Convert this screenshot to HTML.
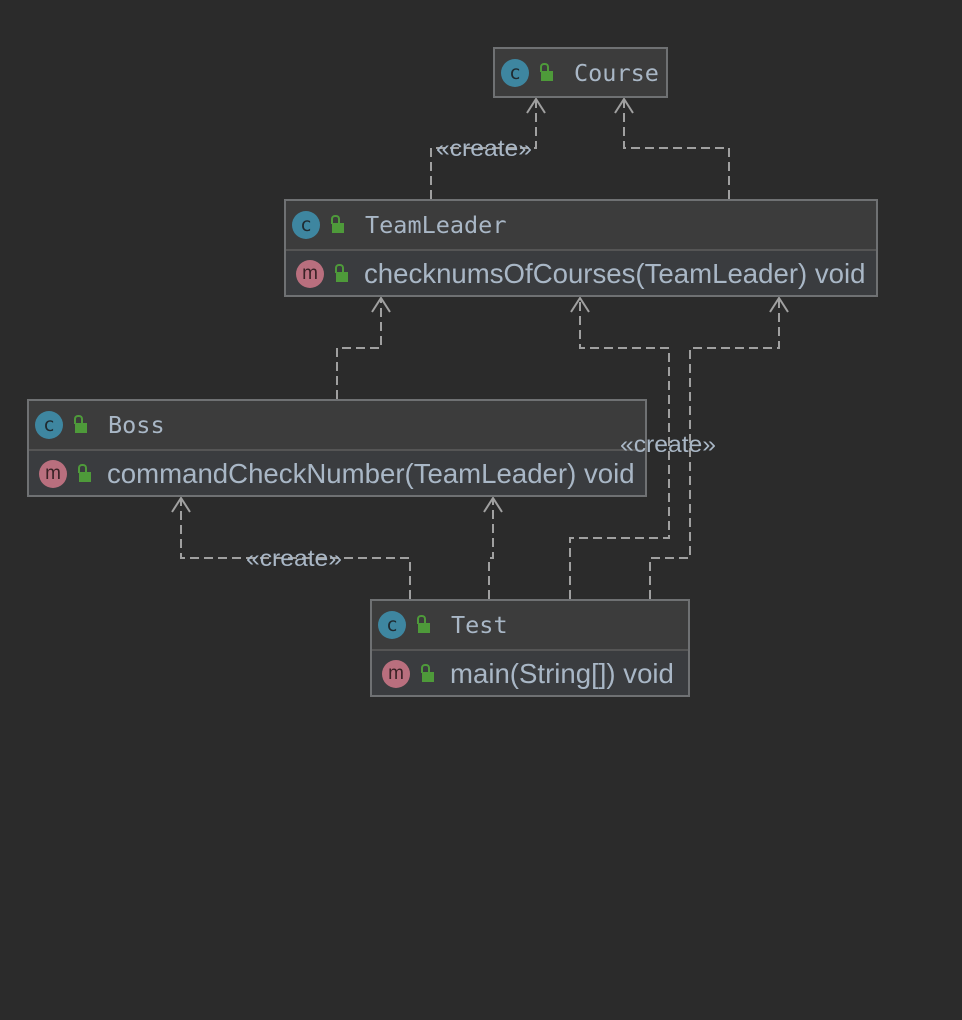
<!DOCTYPE html>
<html><head><style>
body{margin:0;width:962px;height:1020px;background:#2b2b2b;overflow:hidden;position:relative;font-family:"Liberation Sans","DejaVu Sans",sans-serif}
.box{position:absolute;border:2px solid #6f7173;box-sizing:border-box;background:#3c3c3c;overflow:hidden}
.row{position:absolute;left:0;right:0;height:48px;display:flex;align-items:center;box-sizing:border-box}
.hd{font-family:"DejaVu Sans Mono","Liberation Mono",monospace;font-size:23.5px;color:#a9b7c6}
.md{background:#3a3c3f;border-top:2px solid #555;font-size:27.6px;color:#a9b7c6}
.ic{width:28px;height:28px;border-radius:50%;display:inline-flex;align-items:center;justify-content:center;font-size:19px;color:#1f2a30;margin-left:6px;flex:none}
.c{background:#3e86a0}
.m{background:#b96f7e;color:#3a2226}
.lk{width:12px;height:10px;background:#4e9a3a;margin:6px 16px 0 12px;position:relative;flex:none}
.lk:before{content:"";position:absolute;left:-1px;top:-8px;width:5px;height:7px;border:2px solid #4e9a3a;border-bottom:none;border-radius:4px 4px 0 0}
</style></head><body>
<svg width="962" height="1020" style="position:absolute;left:0;top:0">
<g fill="none" stroke="#a0a0a0" stroke-width="2" stroke-dasharray="9,5">
<polyline points="431,199 431,148 536,148 536,99"/>
<polyline points="729,199 729,148 624,148 624,99"/>
<polyline points="337,399 337,348 381,348 381,298"/>
<polyline points="570,599 570,538 669,538 669,348 580,348 580,298"/>
<polyline points="650,599 650,558 690,558 690,348 779,348 779,298"/>
<polyline points="410,599 410,558 181,558 181,498"/>
<polyline points="489,599 489,558 493,558 493,498"/>
</g>
<g fill="none" stroke="#a0a0a0" stroke-width="2">
<polyline points="527,113 536,99 545,113"/><polyline points="615,113 624,99 633,113"/>
<polyline points="372,312 381,298 390,312"/><polyline points="571,312 580,298 589,312"/>
<polyline points="770,312 779,298 788,312"/><polyline points="172,512 181,498 190,512"/>
<polyline points="484,512 493,498 502,512"/>
</g>
</svg>
<div class="box" style="left:493px;top:47px;width:175px;height:51px"><div class="row hd" style="top:0;height:47px"><span class="ic c">c</span><span class="lk"></span><span style="margin-left:5px">Course</span></div></div>
<div class="box" style="left:284px;top:199px;width:594px;height:98px"><div class="row hd" style="top:0"><span class="ic c">c</span><span class="lk"></span><span style="margin-left:5px">TeamLeader</span></div><div class="row md" style="top:48px;height:48px"><span class="ic m" style="margin-left:10px">m</span><span class="lk"></span><span>checknumsOfCourses(TeamLeader) void</span></div></div>
<div class="box" style="left:27px;top:399px;width:620px;height:98px"><div class="row hd" style="top:0"><span class="ic c">c</span><span class="lk"></span><span style="margin-left:5px">Boss</span></div><div class="row md" style="top:48px;height:48px"><span class="ic m" style="margin-left:10px">m</span><span class="lk"></span><span>commandCheckNumber(TeamLeader) void</span></div></div>
<div class="box" style="left:370px;top:599px;width:320px;height:98px"><div class="row hd" style="top:0"><span class="ic c">c</span><span class="lk"></span><span style="margin-left:5px">Test</span></div><div class="row md" style="top:48px;height:48px"><span class="ic m" style="margin-left:10px">m</span><span class="lk"></span><span>main(String[]) void</span></div></div>
<svg width="962" height="1020" style="position:absolute;left:0;top:0">
<g font-family="Liberation Sans,sans-serif" font-size="23" fill="#a9b7c6">
<text x="436" y="156" textLength="96" lengthAdjust="spacingAndGlyphs">«create»</text>
<text x="620" y="452" textLength="96" lengthAdjust="spacingAndGlyphs">«create»</text>
<text x="246" y="566" textLength="96" lengthAdjust="spacingAndGlyphs">«create»</text>
</g>
</svg>
</body></html>
